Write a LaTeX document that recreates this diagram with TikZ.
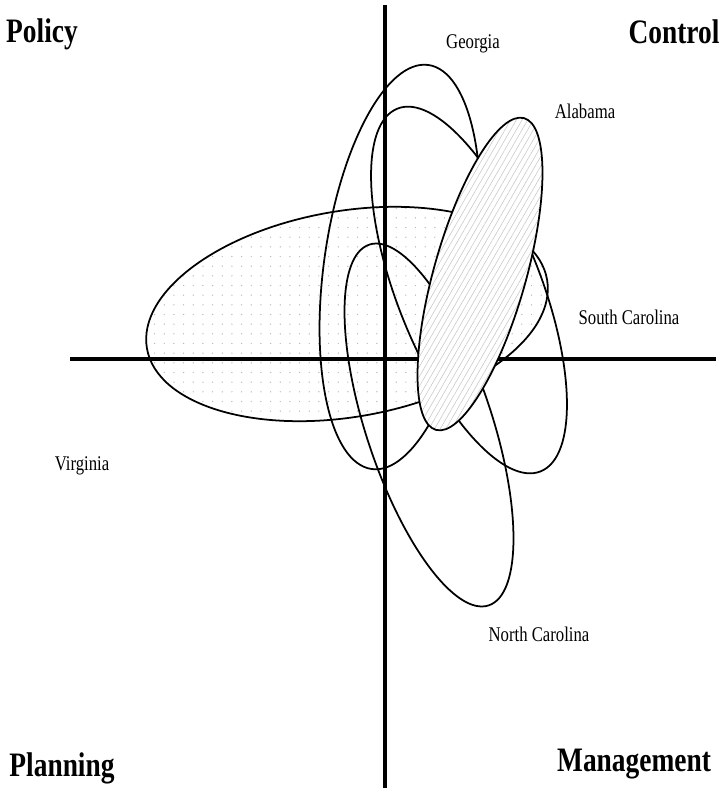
\documentclass[tikz,border=0pt]{standalone}
\usepackage{fontspec}
\setmainfont{Liberation Serif}[FakeStretch=0.8]
\usetikzlibrary{patterns.meta}

\begin{document}
\begin{tikzpicture}[x=0.02cm,y=-0.02cm]
	\tikzset{axis/.style={line width=2.8pt},
		ell/.style={line width=1pt},
		corner/.style={anchor=base, inner sep=0pt, font=\fontsize{19.5}{21}\selectfont\bfseries},
		state/.style={anchor=base, inner sep=0pt, font=\fontsize{11.9}{13}\selectfont}}
	\useasboundingbox (0,0) rectangle (721,788);
	% Virginia fill under the axes
	\path[pattern={Dots[distance=5.5pt, radius=0.4pt]}, pattern color=gray!55, rotate around={9.75:(347,314)}]
		(347,314) ellipse [x radius=203, y radius=103];
	% axes
	\draw[axis] (385,5) -- (385,788);
	\draw[axis] (70,359) -- (716,359);
	% outlines
	\draw[ell, rotate around={9.75:(347,314)}] (347,314) ellipse [x radius=203, y radius=103];
	\draw[ell, rotate around={82:(400,267)}] (400,267) ellipse [x radius=204, y radius=76];
	\draw[ell, rotate around={111.5:(469,290)}] (469,290) ellipse [x radius=195, y radius=72];
	\draw[ell, rotate around={108.3:(429,425)}] (429,425) ellipse [x radius=190, y radius=63];
	% Alabama on top
	\draw[ell, preaction={fill=white}, pattern={Lines[angle=60, distance=2.8pt, line width=0.3pt]}, pattern color=gray!45,
		rotate around={74.2:(480,274)}] (480,274) ellipse [x radius=162, y radius=46];
	
	\node[corner] (policy) at (42,42) {Policy};
	\node[corner] (control) at (674,43) {Control};
	\node[corner] (planning) at (62,776) {Planning};
	\node[corner] (management) at (634,771) {Management};
	
	\node[state] (georgia) at (473,48) {Georgia};
	\node[state] (alabama) at (585,118) {Alabama};
	\node[state] (southcar) at (629,324) {South Carolina};
	\node[state] (virginia) at (82,470) {Virginia};
	\node[state] (northcar) at (539,641) {North Carolina};
\end{tikzpicture}
\end{document}
